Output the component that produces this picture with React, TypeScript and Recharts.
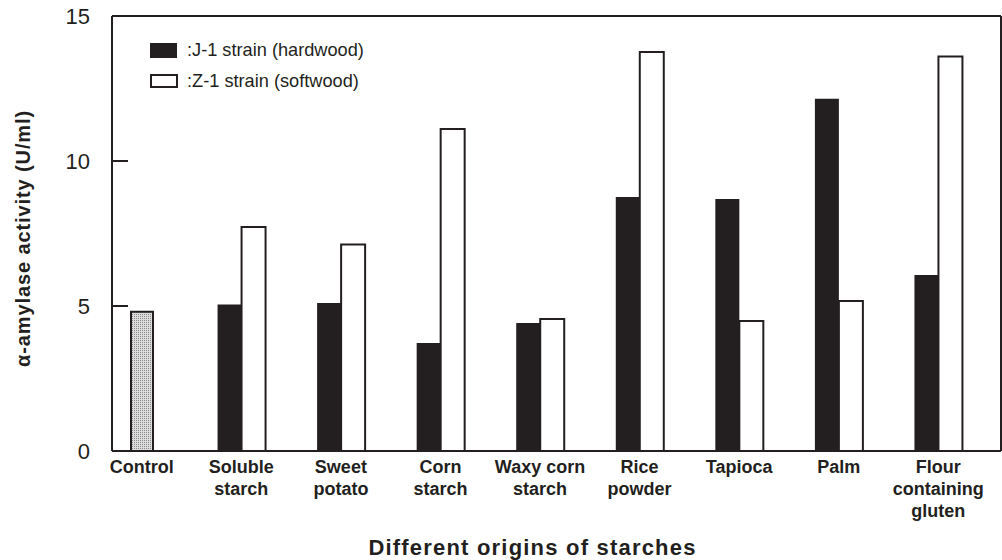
import { BarChart, Bar, XAxis, YAxis, Legend } from "recharts";

// reading off the figure: alpha-amylase activity (U/ml) per starch origin
const categories = [
  "Control",
  "Soluble\nstarch",
  "Sweet\npotato",
  "Corn\nstarch",
  "Waxy corn\nstarch",
  "Rice\npowder",
  "Tapioca",
  "Palm",
  "Flour\ncontaining\ngluten",
];
const j1Values = [null, 5.05, 5.1, 3.72, 4.41, 8.76, 8.69, 12.15, 6.07];
const z1Values = [null, 7.72, 7.12, 11.1, 4.55, 13.76, 4.48, 5.17, 13.6];
const controlValues = [4.8, null, null, null, null, null, null, null, null];
const yTicks = [0, 5, 10, 15];

const seriesNames = [":J-1 strain (hardwood)", ":Z-1 strain (softwood)"];

const INK = "#231f20";
const FONT = "Arial, 'Liberation Sans', Helvetica, sans-serif";

const data = categories.map((name, i) => ({
  name,
  j1: j1Values[i],
  z1: z1Values[i],
  control: controlValues[i],
}));

const xPadding = { left: -20, right: 13 };
const frameLine = { stroke: INK, strokeWidth: 2 };

function CategoryTick(props: any) {
  const { x, y, payload } = props;
  const lines = String(payload.value).split("\n");
  return (
    <text
      x={x}
      y={y}
      textAnchor="middle"
      fontSize={18}
      fontWeight="bold"
      fill={INK}
      fontFamily={FONT}
    >
      {lines.map((line, i) => (
        <tspan key={i} x={x} dy={22}>
          {line}
        </tspan>
      ))}
    </text>
  );
}

// ticks point inward (into the plot) like the original
function ValueTick(props: any) {
  const { x, y, payload } = props;
  const axisX = x + 22;
  return (
    <g>
      <line x1={axisX} x2={axisX + 16} y1={y} y2={y} stroke={INK} strokeWidth={2} />
      <text
        x={x}
        y={y}
        dy={8}
        textAnchor="end"
        fontSize={22}
        fill={INK}
        fontFamily={FONT}
      >
        {payload.value}
      </text>
    </g>
  );
}

function LegendBox() {
  return (
    <svg width={270} height={56} style={{ display: "block" }}>
      <rect x={0} y={3} width={27} height={15} fill={INK} />
      <text x={37} y={16} fontSize={18.2} fill={INK} fontFamily={FONT}>
        {seriesNames[0]}
      </text>
      <rect x={1} y={35} width={26} height={12} fill="#fff" stroke={INK} strokeWidth={2} />
      <text x={37} y={47} fontSize={18.2} fill={INK} fontFamily={FONT}>
        {seriesNames[1]}
      </text>
    </svg>
  );
}

export default function App() {
  return (
    <div style={{ position: "absolute", left: 0, top: 0, background: "#fff" }}>
      <BarChart
        width={1002}
        height={560}
        data={data}
        margin={{ top: 15, right: 0, bottom: 0, left: 0 }}
        barGap={0}
      >
        <defs>
          <pattern id="stipple" width={2} height={2} patternUnits="userSpaceOnUse">
            <rect width={2} height={2} fill="#dcdcdc" />
            <rect width={1} height={1} fill="#8a8a8a" />
          </pattern>
        </defs>
        <XAxis
          dataKey="name"
          height={109}
          padding={xPadding}
          tickLine={false}
          tickSize={0}
          tickMargin={0}
          interval={0}
          tick={<CategoryTick />}
          axisLine={frameLine}
          label={{
            value: "Different origins of starches",
            position: "insideBottom",
            offset: 5,
            dx: -24,
            fontSize: 22,
            fontWeight: "bold",
            fill: INK,
            fontFamily: FONT,
            letterSpacing: 1.2,
          }}
        />
        {/* top edge of the frame; also carries the centred control bar */}
        <XAxis
          xAxisId="top"
          dataKey="name"
          orientation="top"
          height={1}
          padding={xPadding}
          tick={false}
          tickLine={false}
          axisLine={frameLine}
        />
        <YAxis
          width={112}
          domain={[0, 15]}
          ticks={yTicks}
          tickLine={false}
          tickSize={0}
          tickMargin={22}
          tick={<ValueTick />}
          axisLine={frameLine}
          label={{
            value: "α-amylase activity (U/ml)",
            angle: -90,
            position: "center",
            dx: -33,
            dy: 5,
            fontSize: 20,
            fontWeight: "bold",
            fill: INK,
            fontFamily: FONT,
            letterSpacing: 0.9,
          }}
        />
        {/* right edge of the frame */}
        <YAxis
          yAxisId="right"
          orientation="right"
          width={1}
          domain={[0, 15]}
          ticks={yTicks}
          tick={false}
          tickLine={false}
          axisLine={frameLine}
        />
        <Legend
          layout="horizontal"
          verticalAlign="middle"
          align="center"
          wrapperStyle={{ top: 40, left: 150, width: 270 }}
          content={() => <LegendBox />}
        />
        <Bar
          yAxisId="right"
          dataKey="j1"
          name={seriesNames[0]}
          fill={INK}
          barSize={24}
          isAnimationActive={false}
        />
        <Bar
          yAxisId="right"
          dataKey="z1"
          name={seriesNames[1]}
          fill="#fff"
          stroke={INK}
          strokeWidth={2}
          barSize={24}
          isAnimationActive={false}
        />
        <Bar
          xAxisId="top"
          dataKey="control"
          name="Control"
          fill="url(#stipple)"
          stroke={INK}
          strokeWidth={2}
          barSize={22}
          isAnimationActive={false}
        />
      </BarChart>
    </div>
  );
}
